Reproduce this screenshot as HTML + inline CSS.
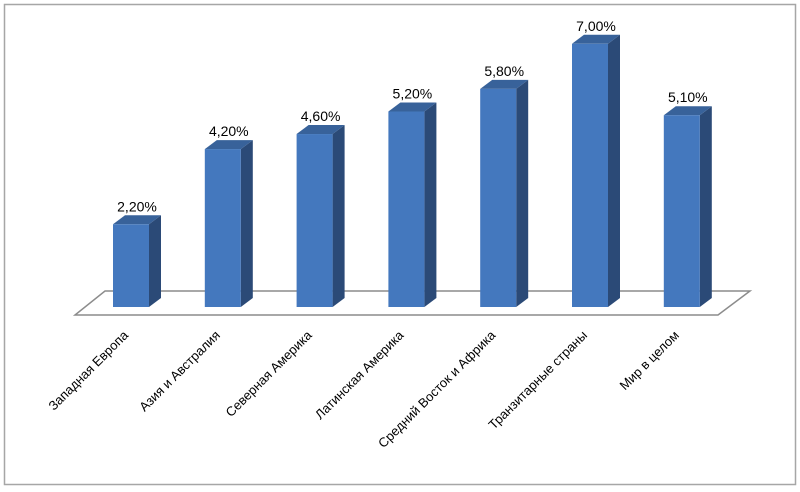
<!DOCTYPE html>
<html><head><meta charset="utf-8"><style>
body{margin:0;background:#fff}
svg{display:block;font-family:"Liberation Sans","DejaVu Sans",sans-serif}
</style></head><body>
<svg width="800" height="492" viewBox="0 0 800 492">
<rect x="4.5" y="4.5" width="791" height="480" fill="#fff" stroke="#a6a6a6" stroke-width="1.5"/>
<polygon points="75,315 718,315 750,291 105,291" fill="#fff" stroke="#8c8c8c" stroke-width="1.5"/>
<g id="bars"></g>
<g id="labels"></g>
</svg>
<script>
const categories=["Западная Европа","Азия и Австралия","Северная Америка","Латинская Америка","Средний Восток и Африка","Транзитарные страны","Мир в целом"];
const values=[2.2,4.2,4.6,5.2,5.8,7.0,5.1];
const valueLabels=["2,20%","4,20%","4,60%","5,20%","5,80%","7,00%","5,10%"];
const NS="http://www.w3.org/2000/svg";
const baseY=307, scale=37.6, x0=113, step=91.8, w=36, dx=12, dy=9;
function xScale(i){return x0+i*step;}
function yScale(v){return baseY-v*scale;}
const gb=document.getElementById('bars'), gl=document.getElementById('labels');
function mk(tag,attrs,parent){const e=document.createElementNS(NS,tag);for(const k in attrs)e.setAttribute(k,attrs[k]);parent.appendChild(e);return e;}
values.forEach((v,i)=>{
  const x=xScale(i), y=yScale(v);
  const g=mk('g',{},gb);
  
  
  mk('polygon',{points:`${x+w},${y} ${x+w+dx},${y-dy} ${x+w+dx},${baseY-dy} ${x+w},${baseY}`,fill:'#2b4a77'},g);
  mk('polygon',{points:`${x},${y} ${x+dx},${y-dy} ${x+w+dx},${y-dy} ${x+w},${y}`,fill:'#38629a'},g);
  mk('rect',{x:x,y:y,width:w,height:baseY-y,fill:'#4478be'},g);
  const t=mk('text',{x:x+w/2+dx/2,y:y-dy-4,'text-anchor':'middle','font-size':'14',fill:'#000'},gb);
  t.textContent=valueLabels[i];
  
  
  const cx=x+16, cy=336;
  const l=mk('text',{x:cx,y:cy,'text-anchor':'end','font-size':'13',fill:'#000',transform:`rotate(-45 ${cx} ${cy})`},gl);
  l.textContent=categories[i];
  
  
});
</script>
</body></html>
